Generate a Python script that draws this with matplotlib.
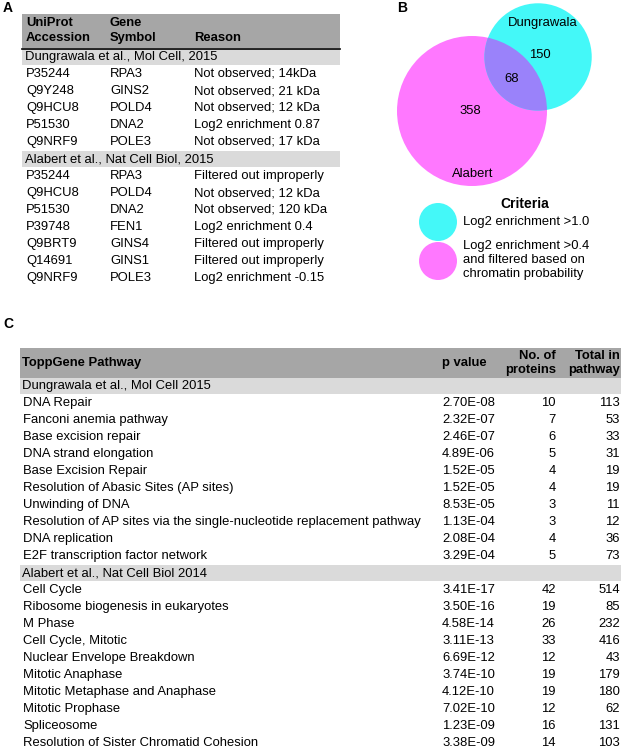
import matplotlib
matplotlib.use("Agg")
import numpy as np
import matplotlib.pyplot as plt
from matplotlib.patches import Rectangle, Circle

plt.rcParams['font.family'] = ['Liberation Sans', 'DejaVu Sans']

# ---- panel A: proteins missing from each screen ----
a_groups = ["Dungrawala et al., Mol Cell, 2015", "Alabert et al., Nat Cell Biol, 2015"]
a_group_sizes = [5, 7]
a_accession = ["P35244", "Q9Y248", "Q9HCU8", "P51530", "Q9NRF9",
               "P35244", "Q9HCU8", "P51530", "P39748", "Q9BRT9", "Q14691", "Q9NRF9"]
a_gene = ["RPA3", "GINS2", "POLD4", "DNA2", "POLE3",
          "RPA3", "POLD4", "DNA2", "FEN1", "GINS4", "GINS1", "POLE3"]
a_reason = ["Not observed; 14kDa", "Not observed; 21 kDa", "Not observed; 12 kDa",
            "Log2 enrichment 0.87", "Not observed; 17 kDa",
            "Filtered out improperly", "Not observed; 12 kDa", "Not observed; 120 kDa",
            "Log2 enrichment 0.4", "Filtered out improperly", "Filtered out improperly",
            "Log2 enrichment -0.15"]

# ---- panel B: venn counts ----
venn_only_dung = 150
venn_shared = 68
venn_only_alab = 358
venn_names = ["Dungrawala", "Alabert"]
criteria = ["Log2 enrichment >1.0",
            "Log2 enrichment >0.4\nand filtered based on\nchromatin probability"]

# ---- panel C: ToppGene pathways ----
c_groups = ["Dungrawala et al., Mol Cell 2015", "Alabert et al., Nat Cell Biol 2014"]
c_group_sizes = [10, 10]
c_pathway = ["DNA Repair", "Fanconi anemia pathway", "Base excision repair",
             "DNA strand elongation", "Base Excision Repair",
             "Resolution of Abasic Sites (AP sites)", "Unwinding of DNA",
             "Resolution of AP sites via the single-nucleotide replacement pathway",
             "DNA replication", "E2F transcription factor network",
             "Cell Cycle", "Ribosome biogenesis in eukaryotes", "M Phase",
             "Cell Cycle, Mitotic", "Nuclear Envelope Breakdown", "Mitotic Anaphase",
             "Mitotic Metaphase and Anaphase", "Mitotic Prophase", "Spliceosome",
             "Resolution of Sister Chromatid Cohesion"]
c_pvalue = ["2.70E-08", "2.32E-07", "2.46E-07", "4.89E-06", "1.52E-05",
            "1.52E-05", "8.53E-05", "1.13E-04", "2.08E-04", "3.29E-04",
            "3.41E-17", "3.50E-16", "4.58E-14", "3.11E-13", "6.69E-12",
            "3.74E-10", "4.12E-10", "7.02E-10", "1.23E-09", "3.38E-09"]
c_proteins = [10, 7, 6, 5, 4, 4, 3, 3, 4, 5, 42, 19, 26, 33, 12, 19, 19, 12, 16, 14]
c_total = [113, 53, 33, 31, 19, 19, 11, 12, 36, 73, 514, 85, 232, 416, 43, 179, 180, 62, 131, 103]

HEAD = '#a6a6a6'
BAND = '#dadada'
CYAN = '#44f8f8'
MAGENTA = '#ff78ff'
OVERLAP = '#9a82fa'
FS = 9.4
ROW = 17

fig = plt.figure(figsize=(6.28, 7.5), dpi=100)
ax = fig.add_axes([0, 0, 1, 1])
ax.set_xlim(0, 628)
ax.set_ylim(750, 0)
ax.axis('off')

# panel labels
for lab, x, y in [("A", 8, 8), ("B", 402, 8), ("C", 8, 324)]:
    ax.text(x, y, lab, fontsize=10, fontweight='bold', va='center', ha='center')

# ---- table A ----
ax.add_patch(Rectangle((22, 14), 318, 34, color=HEAD, lw=0))
ax.plot([22, 340], [48.5, 48.5], color='black', lw=1.2)
for x, lines in [(26, ["UniProt", "Accession"]), (110, ["Gene", "Symbol"]), (194, ["", "Reason"])]:
    for yy, t in zip([23, 38], lines):
        ax.text(x, yy, t, fontsize=FS, fontweight='bold', va='center')

y = 57
i = 0
for g, n in zip(a_groups, a_group_sizes):
    ax.add_patch(Rectangle((22, y - 8), 318, 16, color=BAND, lw=0))
    ax.text(25, y, g, fontsize=FS, va='center')
    y += ROW
    for k in range(n):
        ax.text(26, y, a_accession[i], fontsize=FS, va='center')
        ax.text(110, y, a_gene[i], fontsize=FS, va='center')
        ax.text(194, y, a_reason[i], fontsize=FS, va='center')
        y += ROW
        i += 1

# ---- venn B (area proportional) ----
n_alab = venn_only_alab + venn_shared
n_dung = venn_only_dung + venn_shared
k = 75 / np.sqrt(n_alab)
r1 = k * np.sqrt(n_alab)
r2 = k * np.sqrt(n_dung)
target = np.pi * k**2 * venn_shared


def lens(d):
    a1 = (d**2 + r1**2 - r2**2) / (2 * d)
    a2 = d - a1
    s1 = r1**2 * np.arccos(a1 / r1) - a1 * np.sqrt(r1**2 - a1**2)
    s2 = r2**2 * np.arccos(a2 / r2) - a2 * np.sqrt(r2**2 - a2**2)
    return s1 + s2


lo, hi = abs(r1 - r2) + 1e-6, r1 + r2 - 1e-6
for _ in range(60):
    mid = (lo + hi) / 2
    if lens(mid) > target:
        lo = mid
    else:
        hi = mid
d = (lo + hi) / 2
c1 = np.array([472.0, 111.0])
direction = np.array([66.0, -54.0]) / np.hypot(66, 54)
c2 = c1 + direction * d

mag = Circle(c1, r1, color=MAGENTA, lw=0)
cy = Circle(c2, r2, color=CYAN, lw=0)
ax.add_patch(mag)
ax.add_patch(cy)
ov = Circle(c2, r2, color=OVERLAP, lw=0)
ax.add_patch(ov)
ov.set_clip_path(mag)

ax.text(543, 23, venn_names[0], fontsize=FS, ha='center', va='center')
ax.text(540, 55, str(venn_only_dung), fontsize=FS, ha='center', va='center')
ax.text(512, 79, str(venn_shared), fontsize=FS, ha='center', va='center')
ax.text(470, 111, str(venn_only_alab), fontsize=FS, ha='center', va='center')
ax.text(473, 174, venn_names[1], fontsize=FS, ha='center', va='center')

ax.text(525, 204, "Criteria", fontsize=10, fontweight='bold', ha='center', va='center')
ax.add_patch(Circle((438, 222), 19, color=CYAN, lw=0))
ax.add_patch(Circle((438, 261), 19, color=MAGENTA, lw=0))
ax.text(463, 222, criteria[0], fontsize=FS, va='center')
ax.text(463, 260, criteria[1], fontsize=FS, va='center', linespacing=1.2)

# ---- table C ----
FC = 9.4
ax.add_patch(Rectangle((20, 348), 601, 30, color=HEAD, lw=0))
ax.text(22, 363, "ToppGene Pathway", fontsize=FC, fontweight='bold', va='center')
ax.text(442, 363, "p value", fontsize=FC, fontweight='bold', va='center')
ax.text(556, 356, "No. of", fontsize=FC, fontweight='bold', va='center', ha='right')
ax.text(556, 370, "proteins", fontsize=FC, fontweight='bold', va='center', ha='right')
ax.text(620, 356, "Total in", fontsize=FC, fontweight='bold', va='center', ha='right')
ax.text(620, 370, "pathway", fontsize=FC, fontweight='bold', va='center', ha='right')

y = 386
i = 0
for g, n in zip(c_groups, c_group_sizes):
    ax.add_patch(Rectangle((20, y - 8), 601, 16, color=BAND, lw=0))
    ax.text(22, y, g, fontsize=FC, va='center')
    y += ROW
    for k2 in range(n):
        ax.text(23, y, c_pathway[i], fontsize=FC, va='center')
        ax.text(442, y, c_pvalue[i], fontsize=FC, va='center')
        ax.text(556, y, str(c_proteins[i]), fontsize=FC, va='center', ha='right')
        ax.text(620, y, str(c_total[i]), fontsize=FC, va='center', ha='right')
        y += ROW
        i += 1

fig.savefig("out.png", dpi=100)
plt.close()
